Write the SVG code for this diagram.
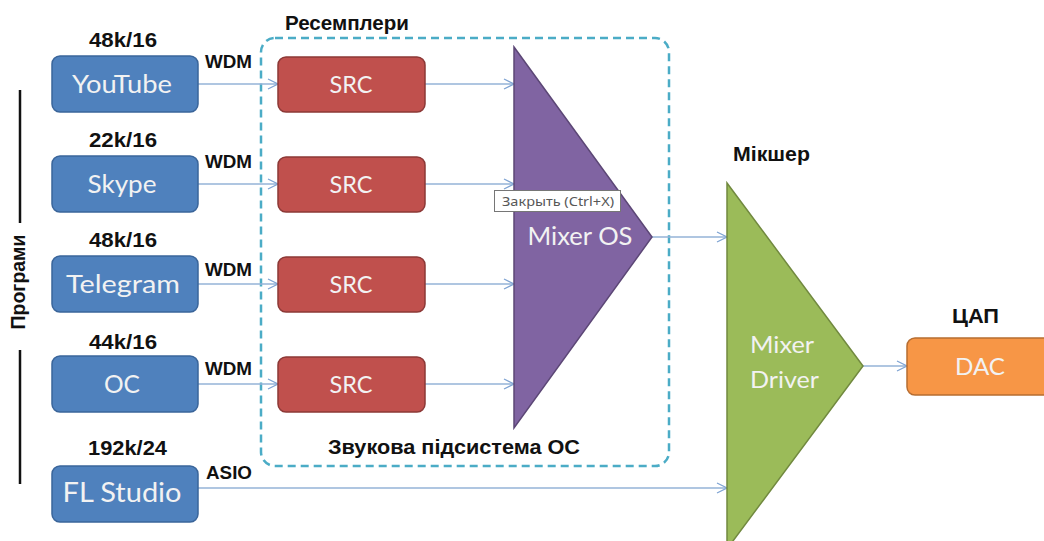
<svg xmlns="http://www.w3.org/2000/svg" width="1044" height="541" viewBox="0 0 1044 541">
<defs>
<marker id="ah" markerWidth="12" markerHeight="12" refX="11" refY="6" orient="auto" markerUnits="userSpaceOnUse">
<path d="M1,1 L11,6 L1,11" fill="none" stroke="#7fa4d3" stroke-width="1.3"/>
</marker>
</defs>
<style>
.app rect{fill:#4f81bd;stroke:#3a659a;stroke-width:1.5}
.src rect{fill:#c0504d;stroke:#8c3836;stroke-width:1.5}
.nt{font-family:Lato,"Liberation Sans",Arial,sans-serif;fill:#f2f2f2;text-anchor:middle}
.lb{font-family:"Liberation Sans",Arial,sans-serif;font-weight:bold;fill:#111;font-size:20px}
.sm{font-size:18px}
.cn line{stroke:#95b3d7;stroke-width:1.5;fill:none;marker-end:url(#ah)}
</style>
<rect width="1044" height="541" fill="#ffffff"/>

<g id="programs-label">
<line x1="20" y1="90" x2="20" y2="223" stroke="#111" stroke-width="2.5"/>
<line x1="20" y1="350" x2="20" y2="484" stroke="#111" stroke-width="2.5"/>
<text class="lb" transform="translate(25,282) rotate(-90)" text-anchor="middle" font-size="19" textLength="95" lengthAdjust="spacingAndGlyphs">Програми</text>
</g>

<g id="subsystem-box">
<rect x="261" y="38" width="408" height="428" rx="14" fill="none" stroke="#4bacc6" stroke-width="2.5" stroke-dasharray="8,5"/>
<text class="lb" x="285" y="30" textLength="124" lengthAdjust="spacingAndGlyphs">Ресемплери</text>
<text class="lb" x="328" y="454" font-size="23" textLength="252" lengthAdjust="spacingAndGlyphs">Звукова підсистема ОС</text>
</g>

<g class="cn" id="connectors">
<line x1="198" y1="84" x2="278" y2="84"/>
<line x1="198" y1="184" x2="278" y2="184"/>
<line x1="198" y1="284" x2="278" y2="284"/>
<line x1="198" y1="384" x2="278" y2="384"/>
<line x1="425" y1="84" x2="514" y2="84"/>
<line x1="425" y1="184" x2="514" y2="184"/>
<line x1="425" y1="284" x2="514" y2="284"/>
<line x1="425" y1="384" x2="514" y2="384"/>
<line x1="652" y1="237" x2="727" y2="237"/>
<line x1="198" y1="488" x2="727" y2="488"/>
<line x1="863" y1="366" x2="907" y2="366"/>
</g>

<g id="youtube" class="app">
<text class="lb" x="89" y="47" textLength="68" lengthAdjust="spacingAndGlyphs">48k/16</text>
<rect x="52" y="56" width="146" height="56" rx="8"/>
<text class="nt" x="122" y="93" font-size="25" textLength="100" lengthAdjust="spacingAndGlyphs">YouTube</text>
<text class="lb sm" x="205" y="68" textLength="47" lengthAdjust="spacingAndGlyphs">WDM</text>
</g>
<g id="skype" class="app">
<text class="lb" x="89" y="147" textLength="68" lengthAdjust="spacingAndGlyphs">22k/16</text>
<rect x="52" y="156" width="146" height="56" rx="8"/>
<text class="nt" x="122" y="193" font-size="25" textLength="69" lengthAdjust="spacingAndGlyphs">Skype</text>
<text class="lb sm" x="205" y="168" textLength="47" lengthAdjust="spacingAndGlyphs">WDM</text>
</g>
<g id="telegram" class="app">
<text class="lb" x="89" y="247" textLength="68" lengthAdjust="spacingAndGlyphs">48k/16</text>
<rect x="52" y="256" width="146" height="56" rx="8"/>
<text class="nt" x="123" y="293" font-size="25" textLength="114" lengthAdjust="spacingAndGlyphs">Telegram</text>
<text class="lb sm" x="205" y="276" textLength="47" lengthAdjust="spacingAndGlyphs">WDM</text>
</g>
<g id="os" class="app">
<text class="lb" x="89" y="349" textLength="68" lengthAdjust="spacingAndGlyphs">44k/16</text>
<rect x="52" y="356" width="146" height="56" rx="8"/>
<text class="nt" x="122" y="393" font-size="25" textLength="36" lengthAdjust="spacingAndGlyphs">ОС</text>
<text class="lb sm" x="205" y="375" textLength="47" lengthAdjust="spacingAndGlyphs">WDM</text>
</g>
<g id="flstudio" class="app">
<text class="lb" x="88" y="455" textLength="79" lengthAdjust="spacingAndGlyphs">192k/24</text>
<rect x="52" y="466" width="146" height="56" rx="8"/>
<text class="nt" x="122" y="502" font-size="27" textLength="119" lengthAdjust="spacingAndGlyphs">FL Studio</text>
<text class="lb sm" x="206" y="479" textLength="46" lengthAdjust="spacingAndGlyphs">ASIO</text>
</g>

<g id="src1" class="src"><rect x="278" y="57" width="147" height="55" rx="8"/><text class="nt" x="351" y="93" font-size="24" textLength="43" lengthAdjust="spacingAndGlyphs">SRC</text></g>
<g id="src2" class="src"><rect x="278" y="157" width="147" height="55" rx="8"/><text class="nt" x="351" y="193" font-size="24" textLength="43" lengthAdjust="spacingAndGlyphs">SRC</text></g>
<g id="src3" class="src"><rect x="278" y="257" width="147" height="55" rx="8"/><text class="nt" x="351" y="293" font-size="24" textLength="43" lengthAdjust="spacingAndGlyphs">SRC</text></g>
<g id="src4" class="src"><rect x="278" y="357" width="147" height="55" rx="8"/><text class="nt" x="351" y="393" font-size="24" textLength="43" lengthAdjust="spacingAndGlyphs">SRC</text></g>

<g id="mixer-os">
<polygon points="514,47 652,237 514,428" fill="#8064a2" stroke="#5c4776" stroke-width="1.5"/>
<text class="nt" x="580" y="245" font-size="25" textLength="105" lengthAdjust="spacingAndGlyphs">Mixer OS</text>
</g>

<g id="tooltip">
<rect x="494.5" y="190.5" width="126" height="21" fill="#ffffff" stroke="#767676" stroke-width="1"/>
<text x="502" y="205.5" font-family="'Segoe UI','Noto Sans','Liberation Sans',sans-serif" font-size="13" fill="#575757" textLength="112" lengthAdjust="spacingAndGlyphs">Закрыть (Ctrl+X)</text>
</g>

<g id="mixer-driver">
<text class="lb" x="733" y="161" textLength="77" lengthAdjust="spacingAndGlyphs">Мікшер</text>
<polygon points="727,183 863,366 727,549" fill="#9bbb59" stroke="#71893f" stroke-width="1.5"/>
<text class="nt" x="782" y="353" font-size="24" textLength="64" lengthAdjust="spacingAndGlyphs">Mixer</text>
<text class="nt" x="784.5" y="388" font-size="24" textLength="69" lengthAdjust="spacingAndGlyphs">Driver</text>
</g>

<g id="dac">
<text class="lb" x="952" y="323" textLength="47" lengthAdjust="spacingAndGlyphs">ЦАП</text>
<rect x="907" y="338" width="150" height="57" rx="8" fill="#f79646" stroke="#b66d31" stroke-width="1.5"/>
<text class="nt" x="980" y="375" font-size="24" textLength="50" lengthAdjust="spacingAndGlyphs">DAC</text>
</g>
</svg>
